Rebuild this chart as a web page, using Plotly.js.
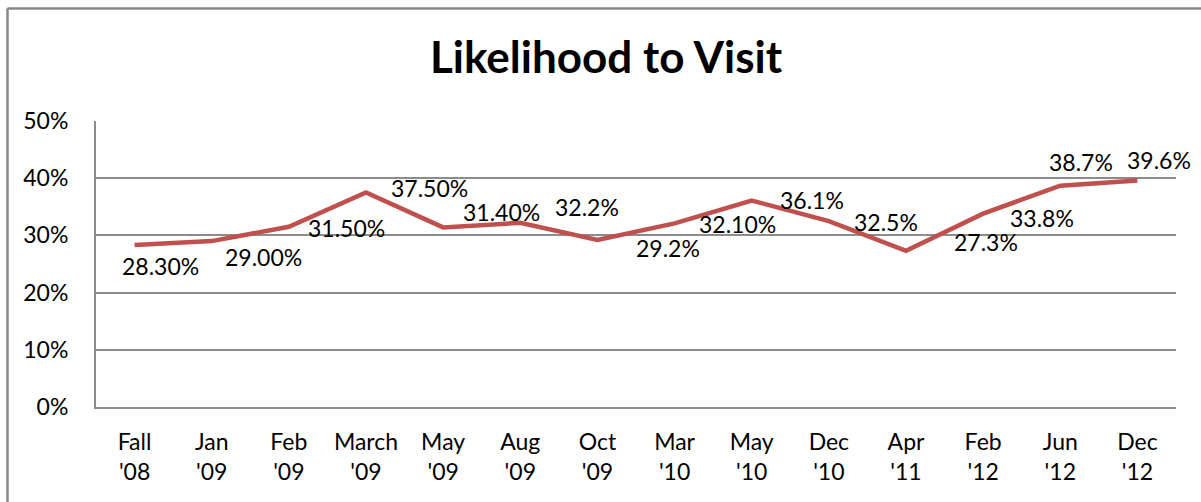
<!DOCTYPE html>
<html>
<head>
<meta charset="utf-8">
<script src="https://cdn.plot.ly/plotly-3.0.1.min.js"></script>
<style>
  html, body { margin: 0; padding: 0; background: #ffffff; }
  #chart { width: 1201px; height: 502px; }
</style>
</head>
<body>
<div id="chart"></div>
<script>
// ---- data ----
const categories = ["Fall<br>'08", "Jan<br>'09", "Feb<br>'09", "March<br>'09", "May<br>'09", "Aug<br>'09", "Oct<br>'09",
                    "Mar<br>'10", "May<br>'10", "Dec<br>'10", "Apr<br>'11", "Feb<br>'12", "Jun<br>'12", "Dec<br>'12"];
const values = [28.3, 29.0, 31.5, 37.5, 31.4, 32.2, 29.2, 32.1, 36.1, 32.5, 27.3, 33.8, 38.7, 39.6];
const labels = ["28.30%", "29.00%", "31.50%", "37.50%", "31.40%", "32.2%", "29.2%", "32.10%", "36.1%", "32.5%", "27.3%", "33.8%", "38.7%", "39.6%"];
const yTicks = [0, 10, 20, 30, 40, 50];

// ---- label placement (pixel offsets from each point, right / down) ----
const labelOffsets = [[26, 21], [52, 16], [58, 1], [63, -5], [58, -15], [67, -16], [71, 8],
                      [63, 1], [60, -1], [57, 1], [80, -9], [59, 4], [21, -24], [22, -20]];

const W = 1201, H = 502;
const M = { l: 96, r: 25, t: 121, b: 95 };
const plotW = W - M.l - M.r, plotH = H - M.t - M.b;
const FONT = "Lato, 'Open Sans', sans-serif";
const gridColor = "#8c8c8c";
const FS = 23;

const trace = {
  type: "scatter",
  mode: "lines",
  x: categories,
  y: values,
  line: { color: "#c0504d", width: 4.5 },
  hoverinfo: "skip",
  showlegend: false
};

const annotations = values.map((v, i) => ({
  x: categories[i],
  y: v,
  xref: "x",
  yref: "y",
  text: labels[i],
  showarrow: false,
  xanchor: "center",
  yanchor: "middle",
  xshift: labelOffsets[i][0],
  yshift: -labelOffsets[i][1],
  font: { family: FONT, size: FS, color: "#000000" }
}));

// outer chart frame (left and top edges), in paper coordinates
const fx = (7.5 - M.l) / plotW;
const fy = (H - M.b - 8.5) / plotH;
const shapes = [
  { type: "line", xref: "paper", yref: "paper", x0: fx, x1: fx, y0: -1, y1: fy,
    line: { color: "#878787", width: 2.5 } },
  { type: "line", xref: "paper", yref: "paper", x0: fx, x1: 2, y0: fy, y1: fy,
    line: { color: "#878787", width: 2.5 } }
];

const layout = {
  width: W,
  height: H,
  margin: M,
  paper_bgcolor: "#ffffff",
  plot_bgcolor: "#ffffff",
  font: { family: FONT, size: FS, color: "#000000" },
  title: {
    text: "<b>Likelihood to Visit</b>",
    font: { family: FONT, size: 44, color: "#000000" },
    xref: "container",
    yref: "container",
    x: 606 / W,
    y: 1 - 58 / H,
    xanchor: "center",
    yanchor: "middle"
  },
  xaxis: {
    type: "category",
    range: [-0.5, categories.length - 0.5],
    showgrid: false,
    showline: true,
    linecolor: gridColor,
    linewidth: 2,
    ticks: "",
    ticklabelstandoff: 13,
    tickfont: { family: FONT, size: FS, color: "#000000" },
    zeroline: false,
    fixedrange: true
  },
  yaxis: {
    range: [0, 50],
    tickvals: yTicks,
    ticktext: yTicks.map(t => t + "%"),
    showgrid: true,
    gridcolor: gridColor,
    gridwidth: 2,
    showline: true,
    linecolor: gridColor,
    linewidth: 2,
    zeroline: false,
    ticks: "",
    ticklabelstandoff: 21,
    tickfont: { family: FONT, size: FS, color: "#000000" },
    fixedrange: true
  },
  annotations: annotations,
  shapes: shapes
};

Plotly.newPlot("chart", [trace], layout, { displayModeBar: false, staticPlot: true });
</script>
</body>
</html>
